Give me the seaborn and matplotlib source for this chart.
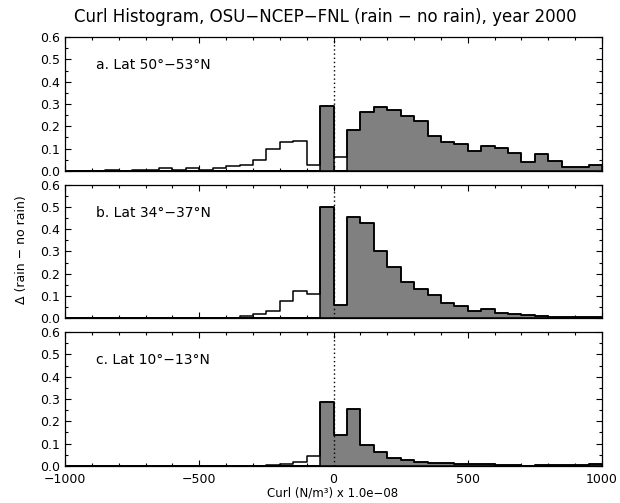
import numpy as np
import pandas as pd
import matplotlib
matplotlib.use('Agg')
import matplotlib.pyplot as plt
import seaborn as sns
from matplotlib.ticker import MultipleLocator, FormatStrFormatter

# Bin edges of the curl histogram (width 50, x 1.0e-08 N/m^3)
edges = np.arange(-1000, 1001, 50)
centers = edges[:-1] + 25

# Delta (rain - no rain) per bin
lat_a = [0.0, 0.001, 0.001, 0.002, 0.001, 0.003, 0.002, 0.012, 0.002, 0.012,
         0.003, 0.013, 0.023, 0.025, 0.048, 0.097, 0.131, 0.136, 0.025, 0.290,
         0.061, 0.184, 0.264, 0.288, 0.272, 0.245, 0.224, 0.157, 0.130, 0.119,
         0.091, 0.112, 0.101, 0.082, 0.040, 0.076, 0.045, 0.019, 0.015, 0.027]
lat_b = [0.0, 0.002, 0.001, 0.0, 0.001, 0.002, 0.001, 0.001, 0.001, 0.001,
         0.001, 0.001, 0.002, 0.012, 0.021, 0.031, 0.079, 0.121, 0.108, 0.498,
         0.060, 0.457, 0.430, 0.301, 0.232, 0.165, 0.132, 0.103, 0.067, 0.055,
         0.034, 0.043, 0.025, 0.019, 0.013, 0.010, 0.004, 0.007, 0.007, 0.007]
lat_c = [0.0, 0.0, 0.0, 0.0, 0.0, 0.0, 0.0, 0.0, 0.0, 0.0,
         0.0, 0.0, 0.0, 0.0, 0.001, 0.004, 0.010, 0.016, 0.043, 0.287,
         0.139, 0.254, 0.094, 0.063, 0.036, 0.027, 0.018, 0.013, 0.012, 0.007,
         0.009, 0.007, 0.004, 0.004, 0.001, 0.004, 0.004, 0.004, 0.004, 0.006]

panel_labels = ['a. Lat 50°\u221253°N', 'b. Lat 34°\u221237°N', 'c. Lat 10°\u221213°N']
# bins (left edge) drawn open although they are on the shaded side
open_bins = [[0], [], []]
shade_from = -50

sns.set_style('ticks')
plt.rcParams['font.family'] = ['DejaVu Sans']
plt.rcParams['xtick.direction'] = 'in'
plt.rcParams['ytick.direction'] = 'in'
for key in ['text.color', 'axes.labelcolor', 'xtick.color', 'ytick.color', 'axes.edgecolor']:
    plt.rcParams[key] = 'black'

fig, axes = plt.subplots(3, 1, figsize=(6.2, 5.03), dpi=100, sharex=True)
fig.subplots_adjust(left=0.105, right=0.971, top=0.926, bottom=0.074, hspace=0.104)

for ax, vals, label, gaps in zip(axes, [lat_a, lat_b, lat_c], panel_labels, open_bins):
    mask = (edges[:-1] >= shade_from) & ~np.isin(edges[:-1], gaps)
    df = pd.DataFrame({'curl': centers, 'delta': vals})
    df['shaded'] = df['delta'] * mask
    sns.histplot(data=df, x='curl', weights='shaded', binwidth=50,
                 binrange=(-1000, 1000), element='step', fill=True,
                 color='#808080', alpha=1, edgecolor='black', linewidth=1.1, ax=ax)
    sns.histplot(data=df, x='curl', weights='delta', binwidth=50,
                 binrange=(-1000, 1000), element='step', fill=False,
                 color='black', linewidth=1.1, ax=ax)
    ax.axvline(0, color='black', linestyle=(0, (1, 2)), linewidth=1.0, zorder=5)
    ax.set_xlim(-1000, 1000)
    ax.set_ylim(0, 0.6)
    ax.set_ylabel('')
    ax.set_xlabel('')
    ax.yaxis.set_major_locator(MultipleLocator(0.1))
    ax.yaxis.set_minor_locator(MultipleLocator(0.05))
    ax.yaxis.set_major_formatter(FormatStrFormatter('%.1f'))
    ax.xaxis.set_major_locator(MultipleLocator(500))
    ax.xaxis.set_minor_locator(MultipleLocator(100))
    ax.tick_params(which='both', top=True, right=True, width=0.8, labelsize=9)
    ax.tick_params(which='major', length=4)
    ax.tick_params(which='minor', length=2.5)
    ax.tick_params(axis='x', pad=5)
    for s in ax.spines.values():
        s.set_linewidth(0.9)
    ax.text(0.058, 0.79, label, transform=ax.transAxes, fontsize=10,
            ha='left', va='center')

axes[2].set_xticks([-1000, -500, 0, 500, 1000])
axes[2].set_xticklabels(['\u22121000', '\u2212500', '0', '500', '1000'])

fig.text(0.524, 0.966, 'Curl Histogram, OSU\u2212NCEP\u2212FNL (rain \u2212 no rain), year 2000',
         ha='center', va='center', fontsize=12)
fig.text(0.035, 0.503, '\u0394 (rain \u2212 no rain)', rotation=90,
         ha='center', va='center', fontsize=9)
fig.text(0.537, 0.02, 'Curl (N/m\u00b3) x 1.0e\u221208', ha='center', va='center',
         fontsize=8.5)

fig.savefig('out.png', dpi=100)
